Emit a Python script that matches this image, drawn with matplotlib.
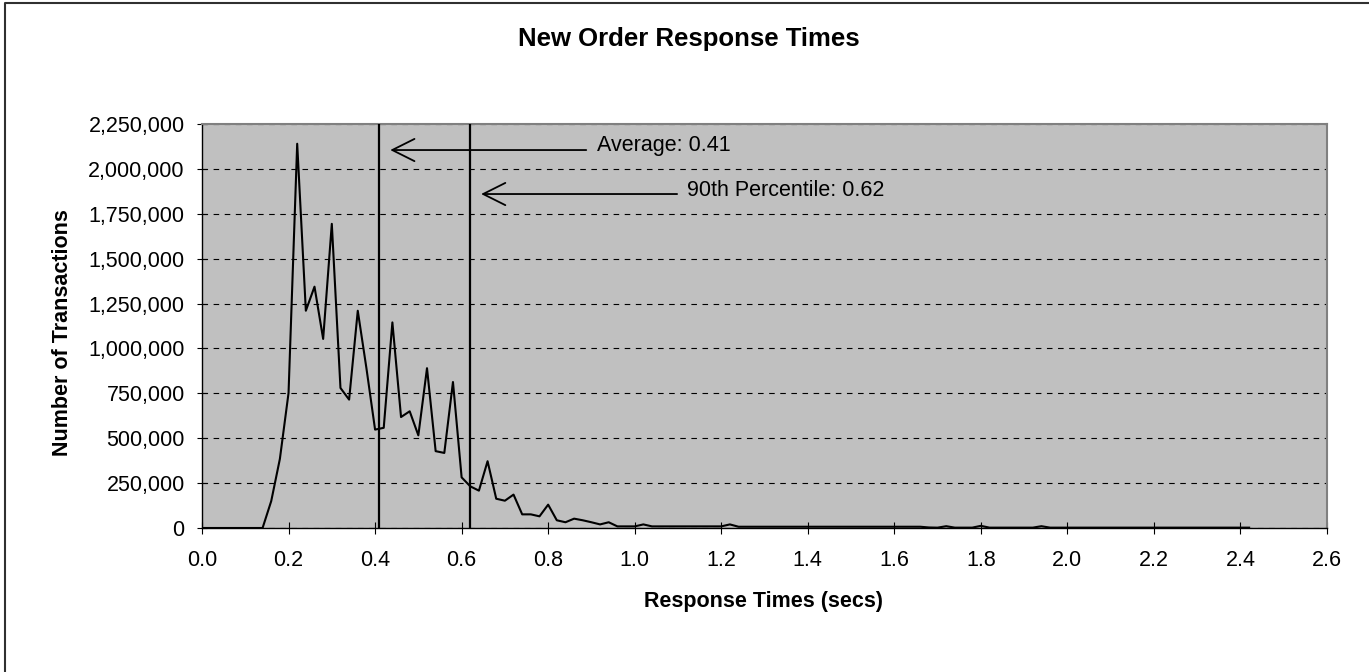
import matplotlib
matplotlib.use("Agg")
import matplotlib.pyplot as plt
from matplotlib.lines import Line2D
from matplotlib.ticker import FuncFormatter, MultipleLocator
import numpy as np

plt.rcParams["font.family"] = ["Liberation Sans", "DejaVu Sans"]

# response time buckets (secs), one every 0.02 s from 0.00 to 2.42
resp_secs = np.round(np.arange(0, 2.421, 0.02), 2)

# transactions per bucket, in thousands
counts_k = (
    [0] * 8                                                     # 0.00 - 0.14
    + [150, 385, 752, 2140, 1210, 1344, 1053, 1694, 780, 715]   # 0.16 - 0.34
    + [1210, 890, 548, 558, 1145, 618, 650, 516, 890, 428]      # 0.36 - 0.54
    + [418, 813, 282, 232, 208, 372, 163, 152, 186, 76]         # 0.56 - 0.74
    + [76, 65, 130, 43, 32, 52, 43, 32, 20, 32]                 # 0.76 - 0.94
    + [9, 9, 9, 20]                                             # 0.96 - 1.02
    + [9] * 9                                                   # 1.04 - 1.20
    + [20]                                                      # 1.22
    + [7] * 22                                                  # 1.24 - 1.66
    + [3, 2, 10, 2, 2, 2, 12]                                   # 1.68 - 1.80
    + [2] * 6                                                   # 1.82 - 1.92
    + [10]                                                      # 1.94
    + [2] * 24                                                  # 1.96 - 2.42
)
counts = np.array(counts_k) * 1000

average = 0.41
pct90 = 0.62

fig = plt.figure(figsize=(13.69, 6.72), dpi=100)
ax = fig.add_axes([202 / 1369, 144 / 672, 1125 / 1369, 404 / 672])
ax.set_facecolor("#C0C0C0")

ax.plot(resp_secs, counts, color="black", lw=1.5, zorder=3)

ax.set_xlim(0, 2.6)
ax.set_ylim(0, 2250000)
ax.xaxis.set_major_locator(MultipleLocator(0.2))
ax.yaxis.set_major_locator(MultipleLocator(250000))
ax.xaxis.set_major_formatter(FuncFormatter(lambda v, p: f"{v:.1f}"))
ax.yaxis.set_major_formatter(FuncFormatter(lambda v, p: f"{int(round(v)):,}"))
ax.tick_params(axis="x", direction="inout", length=8, width=0.8, labelsize=15.5, pad=12)
ax.tick_params(axis="y", direction="inout", length=7, width=0.8, labelsize=15.5, pad=9)

ax.grid(axis="y", color="black", lw=0.8, linestyle=(0, (5, 5)))
ax.set_axisbelow(True)

for side in ["top", "right"]:
    ax.spines[side].set_color("#808080")
    ax.spines[side].set_linewidth(1.5)
for side in ["left", "bottom"]:
    ax.spines[side].set_color("black")
    ax.spines[side].set_linewidth(1.0)

# average / 90th percentile markers
ax.axvline(average, color="black", lw=1.6, zorder=4)
ax.axvline(pct90, color="black", lw=1.6, zorder=4)

arrow = dict(arrowstyle="->,head_length=1.6,head_width=0.8", color="black",
             lw=1.3, shrinkA=0, shrinkB=0, mutation_scale=10)
ax.annotate("", xy=(average + 0.025, 2105000), xytext=(average + 0.478, 2105000),
            arrowprops=arrow)
ax.text(average + 0.503, 2133000, f"Average: {average:.2f}", fontsize=15.5,
        va="center", ha="left")
ax.annotate("", xy=(pct90 + 0.025, 1860000), xytext=(pct90 + 0.478, 1860000),
            arrowprops=arrow)
ax.text(pct90 + 0.501, 1882000, f"90th Percentile: {pct90:.2f}", fontsize=15.5,
        va="center", ha="left")

fig.text(689 / 1369, 1 - 39 / 672, "New Order Response Times", fontsize=18.5,
         fontweight="bold", ha="center", va="center")
fig.text(764 / 1369, 1 - 601 / 672, "Response Times (secs)", fontsize=15.5,
         fontweight="bold", ha="center", va="center")
fig.text(63 / 1369, 1 - 333 / 672, "Number of Transactions", fontsize=15.5,
         fontweight="bold", ha="center", va="center", rotation=90)

# outer chart border (cropped at right and bottom)
fig.add_artist(Line2D([5 / 1369, 5 / 1369, 1.0], [0.0, 1 - 3 / 672, 1 - 3 / 672],
                      color="#303030", lw=1.5, transform=fig.transFigure))

fig.savefig("out.png", dpi=100)
